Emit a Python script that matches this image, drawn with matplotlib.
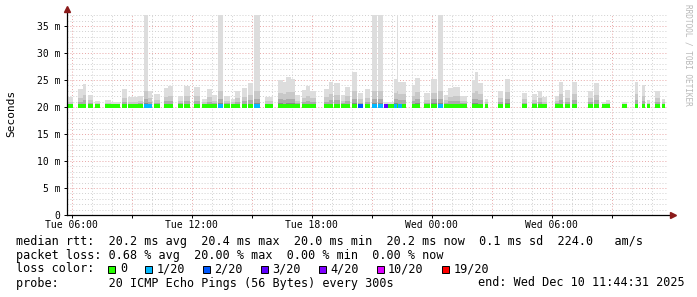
import matplotlib
matplotlib.use("Agg")
import matplotlib.pyplot as plt
from matplotlib.patches import Rectangle
from matplotlib.ticker import MultipleLocator, FuncFormatter
import numpy as np

# smokeping samples grouped in runs, hours after Tue 00:00
burst_start = [5.70, 6.30, 6.55, 6.80, 7.15, 7.65, 7.95, 8.15, 8.50, 8.80, 9.05, 9.30,
               9.60, 9.80, 10.10, 10.60, 10.80, 11.30, 11.60, 12.10, 12.50, 12.75, 13.00,
               13.30, 13.60, 13.95, 14.15, 14.50, 14.80, 15.10, 15.65, 16.30, 16.55, 16.70,
               16.95, 17.15, 17.50, 17.70, 17.90, 18.60, 18.85, 19.10, 19.45, 19.65, 20.00,
               20.30, 20.65, 21.00, 21.30, 21.60, 21.80, 22.10, 22.25, 22.30, 22.50, 23.00,
               23.15, 23.60, 23.95, 24.30, 24.60, 24.80, 25.05, 25.40, 26.00, 26.15, 26.30,
               26.65, 27.30, 27.65, 28.50, 29.00, 29.30, 29.50, 30.15, 30.35, 30.65, 31.00,
               31.80, 32.10, 32.50, 32.70, 33.50, 34.15, 34.50, 34.75, 35.15, 35.50]
burst_end = [6.05, 6.55, 6.70, 7.05, 7.40, 7.95, 8.15, 8.40, 8.75, 9.05, 9.30, 9.55,
             9.80, 10.00, 10.40, 10.80, 11.05, 11.55, 11.90, 12.40, 12.75, 13.00, 13.25,
             13.55, 13.90, 14.15, 14.40, 14.75, 15.05, 15.40, 16.05, 16.55, 16.70, 16.95,
             17.15, 17.40, 17.70, 17.90, 18.20, 18.85, 19.05, 19.40, 19.65, 19.90, 20.25,
             20.55, 20.90, 21.25, 21.55, 21.80, 22.10, 22.25, 22.32, 22.50, 22.70, 23.15,
             23.40, 23.90, 24.25, 24.55, 24.80, 25.05, 25.40, 25.75, 26.15, 26.30, 26.55,
             26.80, 27.55, 27.90, 28.75, 29.25, 29.50, 29.75, 30.35, 30.55, 30.90, 31.25,
             32.05, 32.35, 32.70, 32.90, 33.75, 34.30, 34.65, 34.90, 35.40, 35.65]
# highest ping of each run, ms
burst_top = [21.8, 23.3, 24.3, 22.3, 21.2, 21.3, 21.0, 21.0, 23.3, 21.8, 21.8, 22.1,
             37.5, 23.0, 22.4, 23.6, 23.9, 22.0, 23.9, 23.7, 21.5, 23.4, 22.2,
             37.5, 22.0, 21.5, 23.0, 23.5, 24.4, 37.5, 21.9, 25.0, 24.6, 25.5,
             25.2, 22.2, 23.1, 23.9, 23.0, 23.4, 24.6, 24.4, 22.2, 23.7, 26.5,
             22.6, 23.3, 37.5, 37.5, 21.0, 21.0, 25.1, 37.5, 24.6, 24.6, 24.0,
             25.3, 22.5, 25.1, 37.5, 22.3, 23.5, 23.7, 22.0, 25.0, 26.5, 24.5,
             21.5, 23.0, 25.2, 22.6, 22.4, 23.0, 21.8, 22.0, 24.6, 23.1, 24.6,
             23.0, 24.4, 21.0, 21.3, 21.0, 24.6, 24.0, 21.3, 23.0, 21.5]
# index into loss_labels
burst_loss = [0, 0, 0, 0, 0, 0, 0, 0, 0, 0, 0, 0,
              1, 1, 0, 0, 0, 0, 0, 0, 0, 0, 0,
              1, 0, 0, 0, 0, 0, 1, 0, 0, 0, 0,
              0, 0, 0, 0, 0, 0, 0, 0, 0, 0, 0,
              2, 0, 1, 1, 3, 0, 1, 0, 1, 0, 0,
              0, 0, 0, 1, 0, 0, 0, 0, 0, 0, 0,
              0, 0, 0, 0, 0, 0, 0, 0, 0, 0, 0,
              0, 0, 0, 0, 0, 0, 0, 0, 0, 0]
median_ms = 20.2

loss_labels = ["0", "1/20", "2/20", "3/20", "4/20", "10/20", "19/20"]
loss_colors = ["#26ff00", "#00b8ff", "#0059ff", "#5e00ff", "#7e00ff", "#dd00ff", "#ff0000"]

x_ticks = [6, 12, 18, 24, 30]
x_tick_labels = ["Tue 06:00", "Tue 12:00", "Tue 18:00", "Wed 00:00", "Wed 06:00"]
y_ticks = [0, 5, 10, 15, 20, 25, 30, 35]
y_tick_labels = ["0", "5 m", "10 m", "15 m", "20 m", "25 m", "30 m", "35 m"]

window_end = 35 + 44 / 60 + 31 / 3600
window_start = window_end - 30

legend_rows = [
    "median rtt:  20.2 ms avg  20.4 ms max  20.0 ms min  20.2 ms now  0.1 ms sd  224.0   am/s",
    "packet loss: 0.68 % avg  20.00 % max  0.00 % min  0.00 % now",
]
probe_text = "probe:       20 ICMP Echo Pings (56 Bytes) every 300s"
end_text = "end: Wed Dec 10 11:44:31 2025"

plt.rcParams['font.family'] = ['DejaVu Sans Mono', 'DejaVu Sans']

W, H = 697, 297
fig = plt.figure(figsize=(W / 100, H / 100), dpi=100)
fig.patch.set_facecolor("white")
ax = fig.add_axes([66.5 / W, (H - 215) / H, 600 / W, 200 / H])

start = np.array(burst_start)
width = np.array(burst_end) - start
top = np.array(burst_top)
spread = top - median_ms

# smoke: light outer layer, darker towards the median
layers = [
    ("#dddddd", spread),
    ("#c8c8c8", np.minimum(spread * 0.5, 2.8)),
    ("#ababab", np.minimum(spread * 0.25, 1.3)),
    ("#8a8a8a", np.minimum(spread * 0.1, 0.5)),
]
for color, up in layers:
    ax.bar(start, median_ms + up - 20.0, width=width, bottom=20.0, align="edge",
           color=color, linewidth=0, zorder=3, antialiased=False)

line_colors = [loss_colors[i] for i in burst_loss]
ax.bar(start, 0.6, width=width, bottom=median_ms - 0.3, align="edge",
       color=line_colors, linewidth=0, zorder=4, antialiased=False)

ax.set_xlim(window_start, window_end)
ax.set_ylim(0, 200 / 5.4)

ax.xaxis.set_major_locator(MultipleLocator(3))
ax.xaxis.set_minor_locator(MultipleLocator(1))
ax.yaxis.set_major_locator(MultipleLocator(5))
ax.yaxis.set_minor_locator(MultipleLocator(1))

xlab = dict(zip(x_ticks, x_tick_labels))
ylab = dict(zip(y_ticks, y_tick_labels))
ax.xaxis.set_major_formatter(FuncFormatter(lambda v, p: xlab.get(int(round(v)), "")))
ax.yaxis.set_major_formatter(FuncFormatter(lambda v, p: ylab.get(int(round(v)), "")))

ax.set_axisbelow(True)
ax.grid(which="minor", color="#d0d0d0", linestyle=(0, (1, 2)), linewidth=0.7)
ax.grid(which="major", color="#e8a6a6", linestyle=(0, (1, 2)), linewidth=0.7)

ax.tick_params(which="both", labelsize=7, colors="#000000", length=2.5, width=0.7,
               direction="out", pad=2)
ax.tick_params(which="minor", length=0)
ax.tick_params(axis="x", pad=1)
for s in ax.spines.values():
    s.set_visible(False)
ax.set_facecolor("white")

# axis lines with arrows
ax.plot([0, 1.008], [0, 0], color="black", lw=0.9, transform=ax.transAxes, clip_on=False, zorder=5)
ax.plot([0, 0], [0, 1.03], color="black", lw=0.9, transform=ax.transAxes, clip_on=False, zorder=5)
ax.plot([1.01], [0], marker=">", ms=4, color="#8b1a1a", transform=ax.transAxes, clip_on=False, zorder=6)
ax.plot([0], [1.03], marker="^", ms=4, color="#8b1a1a", transform=ax.transAxes, clip_on=False, zorder=6)

fig.text(11 / W, 1 - 113 / H, "Seconds", rotation=90, ha="center", va="center", fontsize=8)
fig.text(688 / W, 1 - 4 / H, "RRDTOOL / TOBI OETIKER", rotation=-90, ha="center", va="top",
         fontsize=5.6, color="#b8b8b8")

fs = 8.5
char_w = fs * 100 / 72 * 0.602
row_y = [241, 255, 269, 283]
for i, line in enumerate(legend_rows):
    fig.text(16 / W, 1 - row_y[i] / H, line, ha="left", va="center", fontsize=fs)

fig.text(16 / W, 1 - row_y[2] / H, "loss color:", ha="left", va="center", fontsize=fs)
sq_x = 108.3
for label, color in zip(loss_labels, loss_colors):
    fig.add_artist(Rectangle(((sq_x) / W, 1 - (row_y[2] + 3.5) / H), 7 / W, 7 / H,
                             transform=fig.transFigure, facecolor=color,
                             edgecolor="black", linewidth=0.7))
    tx = sq_x + 11.5
    fig.text(tx / W, 1 - row_y[2] / H, label, ha="left", va="center", fontsize=fs)
    sq_x = tx + len(label) * char_w + 18

fig.text(16 / W, 1 - row_y[3] / H, probe_text, ha="left", va="center", fontsize=fs)
fig.text(478 / W, 1 - row_y[3] / H, end_text, ha="left", va="center", fontsize=fs)

fig.savefig("out.png", dpi=100, facecolor="white")
